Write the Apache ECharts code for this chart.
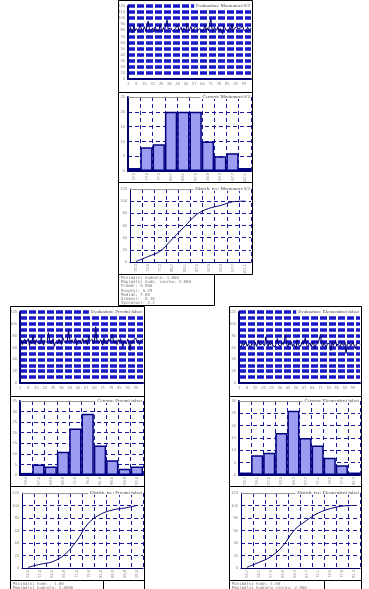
<!DOCTYPE html>
<html><head><meta charset="utf-8">
<script src="https://cdn.jsdelivr.net/npm/echarts@6/dist/echarts.min.js"></script>
<style>html,body{margin:0;padding:0;background:#fff}#c{width:369px;height:589px}</style>
</head><body><div id="c"></div>
<script>
// ---------- DATA ----------
const evalTop = [
 82,78,85,80,76,88,79,83,81,77,90,84,79,82,86,
 78,80,95,83,79,81,84,77,86,80,82,79,88,83,78,
 85,81,80,97,82,79,84,86,78,81,83,80,89,79,82,
 85,77,84,81,80,92,83,79,86,82,78,84,81,87,80,
 79,83,85,78,82,88,80,84,79,81,99,83,78,85,82,
 80,86,79,83,81,74,88,84,80,82,79,85,81,90,78,
 83,80,86,82,79,84,81,87,80,83,78,85,82,80,84];
const evalLeft = [
 68,72,65,70,74,66,69,75,63,71,67,80,70,65,73,
 68,71,66,77,69,64,72,70,68,85,73,66,70,75,62,
 69,71,67,74,70,65,78,72,68,66,71,90,74,69,73,
 67,70,76,64,71,68,72,66,75,69,70,73,65,79,70,
 68,74,66,71,95,72,69,67,73,70,64,76,68,71,66,
 74,70,69,82,72,67,71,65,73,69,75,68,62,70,72,
 66,74,69,55,71,67,73,70,76,68,72,65,71,69,74];
const evalRight = [
 64,66,61,68,63,65,70,62,66,64,60,67,65,63,69,
 62,66,72,64,61,67,65,63,78,66,62,68,64,70,63,
 65,61,67,75,64,66,62,69,65,63,80,66,61,68,64,
 70,62,66,65,59,73,64,67,62,69,65,63,76,66,61,
 64,68,62,66,70,58,65,63,67,64,82,66,62,68,65,
 60,67,64,66,55,69,63,65,72,62,66,64,61,68,65,
 63,70,50,66,64,67,62,65,69,63,58,66,64,67,65];

const histTop   = [1,8,9,20,20,20,10,5,6,1];
const histLeft  = [1,5,4,11,22,29,14,7,3,4];
const histRight = [1,8,9,17,26,15,12,7,4,1];

const cdfTop   = [1,9,18,38,58,78,88,93,99,100];
const cdfLeft  = [1,6,10,21,43,72,86,93,96,100];
const cdfRight = [1,9,18,35,61,76,88,95,99,100];

const binsTop   = ["70.5","73.9","77.3","80.7","84.1","87.5","90.9","94.3","97.7","101.1"];
const binsLeft  = ["52.4","57.2","62.0","66.8","71.6","76.4","81.2","86.0","90.8","95.6"];
const binsRight = ["50.7","54.1","57.5","60.9","64.3","67.7","71.1","74.5","77.9","81.3"];

const titlesTop   = ["Evaluation: Moutonnet 0/2","Četnost: Moutonnet 0/2","Distrib. fce: Moutonnet 0/2"];
const titlesLeft  = ["Evaluation: Prvotní falset","Četnost: Prvotní falset","Distrib. fce: Prvotní falset"];
const titlesRight = ["Evaluation: Elementární falset","Četnost: Elementární falset","Distrib. fce: Elementární falset"];

const statsTop = ["Minimální hodnota: 1.000","Maximální hodn. vzorku: 2.000","Průměr: 5.500","Rozptyl: 6.25","Medián: 7.00","Šikmost: -0.10","Špičatost: 2.1"];
const statsLeft = ["Minimální hodn.: 1.00","Maximální hodnota: 2.0000","Průměr: 6.800","Rozptyl: 5.10","Medián: 7.00"];
const statsRight = ["Minimální hodn: 1.00","Maximální hodnota vzorku: 2.000","Průměr: 5.900","Rozptyl: 4.80","Medián: 6.00"];

// ---------- LAYOUT ----------
const W = 369;
const cols = [
 {x:118, w:135, ys:[0,92,182,274,306], ev:evalTop, hist:histTop, cdf:cdfTop, bins:binsTop, titles:titlesTop, stats:statsTop, statsW:96, step:10, histMax:25},
 {x:10,  w:135, ys:[306,396,486,580,612], ev:evalLeft, hist:histLeft, cdf:cdfLeft, bins:binsLeft, titles:titlesLeft, stats:statsLeft, statsW:93, step:20, histMax:35, full:true},
 {x:229, w:133, ys:[306,396,486,580,612], ev:evalRight, hist:histRight, cdf:cdfRight, bins:binsRight, titles:titlesRight, stats:statsRight, statsW:95, step:20, histMax:30, full:true}
];

const grid=[], xAxis=[], yAxis=[], series=[], title=[], graphic=[];
const navy='#000070', dashC='#1a1aa8', lblC='#808080';
const lbl = {fontSize:4, color:lblC, fontFamily:'Liberation Sans'};

function addTitle(text, plotRight, plotTop){
  title.push({text, right: W-plotRight, top: plotTop-3, z:10, backgroundColor:'#fff', padding:[0,1,0,2],
    textStyle:{fontSize:5, color:'#444', fontWeight:'normal', fontFamily:'Liberation Serif'}});
}

cols.forEach(c=>{
  const R = c.x + c.w - 2;
  // panel 1: evaluation line
  let L = c.x+10, T = c.ys[0]+6, B = c.ys[1]-13;
  let gi = grid.length;
  grid.push({left:L, top:T, width:R-L, height:B-T});
  xAxis.push({type:'category', gridIndex:gi, data:c.ev.map((_,i)=>String(i+1)), boundaryGap:false,
    axisLine:{lineStyle:{color:navy,width:2}}, axisTick:{show:false},
    axisLabel:Object.assign({interval:6, margin:3}, lbl), splitLine:{show:false}});
  yAxis.push({type:'value', gridIndex:gi, min:0, max:120, interval:10,
    axisLine:{show:true, lineStyle:{color:navy,width:2}}, axisTick:{show:false},
    axisLabel:Object.assign({margin:3, formatter:v=>(v%c.step===0?String(v):'')}, lbl),
    splitLine:{show:true, showMinLine:false, lineStyle:{color:'#1818c8', width:3.6, type:[7,2]}}});
  series.push({type:'line', xAxisIndex:gi, yAxisIndex:gi, data:c.ev, symbol:'none', silent:true,
    lineStyle:{color:navy, width:1}});
  addTitle(c.titles[0], R, T);

  // panel 2: histogram
  L = c.x+10; T = c.ys[1]+5; B = c.ys[2]-11;
  gi = grid.length;
  grid.push({left:L, top:T, width:R-L, height:B-T});
  xAxis.push({type:'category', gridIndex:gi, data:c.bins, boundaryGap:true,
    axisLine:{lineStyle:{color:navy,width:2}}, axisTick:{show:false},
    axisLabel:Object.assign({interval:0, rotate:90, margin:2}, lbl),
    splitLine:{show:true, interval:0, lineStyle:{color:dashC, width:1, type:[4,3]}}});
  yAxis.push({type:'value', gridIndex:gi, min:0, max:c.histMax, interval:5,
    axisLine:{show:true, lineStyle:{color:navy,width:2}}, axisTick:{show:false},
    axisLabel:Object.assign({margin:3}, lbl),
    splitLine:{show:true, showMaxLine:false, showMinLine:false, lineStyle:{color:dashC, width:1, type:[4,3]}}});
  series.push({type:'bar', xAxisIndex:gi, yAxisIndex:gi, data:c.hist, barCategoryGap:'0%', silent:true,
    itemStyle:{color:'#9c9cf0', borderColor:'#000080', borderWidth:1.5}});
  graphic.push({type:'line', z:1, shape:{x1:L, y1:T+0.5, x2:R, y2:T+0.5}, style:{stroke:'#999', lineWidth:1}});
  addTitle(c.titles[1], R, T);

  // panel 3: cumulative distribution
  L = c.x+12; T = c.ys[2]+7; B = c.ys[3]-12;
  gi = grid.length;
  grid.push({left:L, top:T, width:R-L, height:B-T});
  xAxis.push({type:'category', gridIndex:gi, data:c.bins, boundaryGap:true,
    axisLine:{lineStyle:{color:navy,width:1}}, axisTick:{show:false},
    axisLabel:Object.assign({interval:0, rotate:90, margin:2}, lbl),
    splitLine:{show:true, interval:0, lineStyle:{color:dashC, width:1, type:[4,3]}}});
  yAxis.push({type:'value', gridIndex:gi, min:0, max:120, interval:20,
    axisLine:{show:true, lineStyle:{color:navy,width:1}}, axisTick:{show:false},
    axisLabel:Object.assign({margin:3}, lbl),
    splitLine:{show:true, showMaxLine:false, showMinLine:false, lineStyle:{color:dashC, width:1, type:[4,3]}}});
  series.push({type:'line', xAxisIndex:gi, yAxisIndex:gi, data:c.cdf, symbol:'none', smooth:0.4, silent:true,
    lineStyle:{color:navy, width:1}});
  graphic.push({type:'line', z:1, shape:{x1:L, y1:T+0.5, x2:R, y2:T+0.5}, style:{stroke:'#999', lineWidth:1}});
  addTitle(c.titles[2], R, T);

  // frames
  for(let k=0;k<3;k++){
    graphic.push({type:'rect', z:5, shape:{x:c.x+0.5, y:c.ys[k]+0.5, width:c.w-1, height:c.ys[k+1]-c.ys[k]},
      style:{fill:'none', stroke:'#000', lineWidth:1}});
  }
  // stats box
  graphic.push({type:'rect', z:5, shape:{x:c.x+0.5, y:c.ys[3]+0.5, width:c.statsW, height:c.ys[4]-c.ys[3]-1},
    style:{fill:'none', stroke:'#000', lineWidth:1}});
  if(c.full){
    graphic.push({type:'rect', z:5, shape:{x:c.x+0.5, y:c.ys[3]+0.5, width:c.w-1, height:c.ys[4]-c.ys[3]-1},
      style:{fill:'none', stroke:'#000', lineWidth:1}});
  }
  c.stats.forEach((s,i)=>{
    graphic.push({type:'text', z:6, x:c.x+3, y:c.ys[3]+2+i*4.2,
      style:{text:s, fontSize:4, fill:'#777', fontFamily:'DejaVu Sans Mono', textVerticalAlign:'top'}});
  });
});

const chart = echarts.init(document.getElementById('c'), null, {renderer:'canvas'});
chart.setOption({animation:false, backgroundColor:'#fff', grid, xAxis, yAxis, series, title, graphic});
</script></body></html>
